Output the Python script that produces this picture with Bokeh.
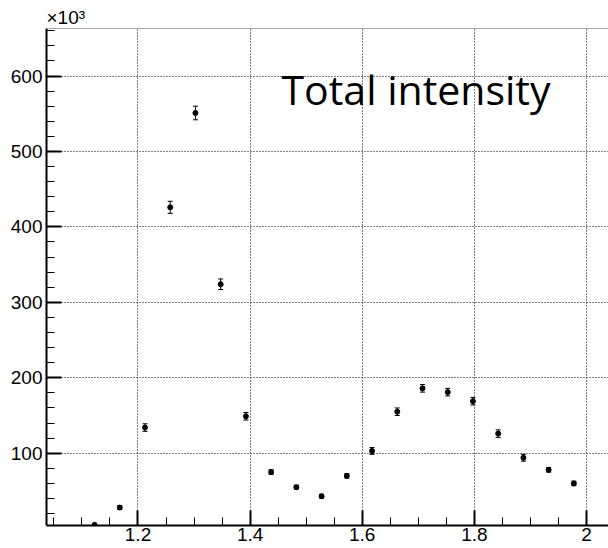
from bokeh.plotting import figure
from bokeh.models import (Range1d, FixedTicker, SingleIntervalTicker, Whisker,
                          ColumnDataSource, Label, Span, TeeHead)
from bokeh.embed import file_html
from bokeh.resources import INLINE

# bin centres (mass) and total intensity (x10^3)
x_centers = [1.1225, 1.1675, 1.2125, 1.2575, 1.3025, 1.3475, 1.3925, 1.4375,
             1.4825, 1.5275, 1.5725, 1.6175, 1.6625, 1.7075, 1.7525, 1.7975,
             1.8425, 1.8875, 1.9325, 1.9775]
intensity = [5, 28, 134, 426, 551, 324, 149, 75, 55, 43, 70, 103, 155, 186,
             181, 169, 126, 94, 78, 60]
errors = [2, 2.5, 5, 8, 9, 7, 5, 3, 2.5, 2.5, 3, 4.5, 5, 5, 5, 5, 5, 4.5, 3, 3]

x_ticks = [1.2, 1.4, 1.6, 1.8, 2.0]
x_minor = [1.05, 1.1, 1.15, 1.25, 1.3, 1.35, 1.45, 1.5, 1.55, 1.65, 1.7,
           1.75, 1.85, 1.9, 1.95]
x_tick_labels = {2: "2"}

x_lo, x_hi = 1.0368, 2.0393
y_lo, y_hi = 4.2, 663.0

src = ColumnDataSource(dict(
    x=x_centers, y=intensity,
    upper=[v + e for v, e in zip(intensity, errors)],
    lower=[v - e for v, e in zip(intensity, errors)],
))

p = figure(width=608, height=548, output_backend="svg", toolbar_location=None,
           x_range=Range1d(x_lo, x_hi), y_range=Range1d(y_lo, y_hi),
           min_border_left=46, min_border_right=0, min_border_top=28,
           min_border_bottom=23, outline_line_color=None,
           background_fill_color="white", border_fill_color="white",
           title="×10³")

font = "'Liberation Sans Narrow', 'Liberation Sans'"
p.title.align = "left"
p.title.text_font = font
p.title.text_font_size = "19px"
p.title.text_font_style = "normal"
p.title.text_color = "black"
p.title.standoff = 2
p.title.offset = 0

for ax in (p.xaxis[0], p.yaxis[0]):
    ax.axis_line_width = 2
    ax.axis_line_color = "black"
    ax.major_tick_in = 15
    ax.major_tick_out = 0
    ax.minor_tick_in = 8
    ax.minor_tick_out = 0
    ax.major_tick_line_width = 2
    ax.minor_tick_line_width = 1
    ax.major_tick_line_color = "black"
    ax.minor_tick_line_color = "black"
    ax.major_label_text_font = font
    ax.major_label_text_font_size = "19px"
    ax.major_label_text_color = "black"
p.xaxis.major_label_standoff = 2
p.yaxis.major_label_standoff = 4

p.xaxis.ticker = FixedTicker(ticks=x_ticks, minor_ticks=x_minor)
p.xaxis.major_label_overrides = x_tick_labels
p.yaxis.ticker = SingleIntervalTicker(interval=100, num_minor_ticks=5)

for g in (p.xgrid[0], p.ygrid[0]):
    g.grid_line_color = "black"
    g.grid_line_dash = "1 2"
    g.grid_line_width = 1

p.add_layout(Span(location=y_hi, dimension="width", line_color="#555555",
                  line_width=1))

p.add_layout(Whisker(source=src, base="x", upper="upper", lower="lower",
                     line_color="black", line_width=1,
                     upper_head=TeeHead(size=5, line_color="black", line_width=1),
                     lower_head=TeeHead(size=5, line_color="black", line_width=1)))
p.scatter("x", "y", source=src, size=5, color="black")

p.add_layout(Label(x=1.456, y=583, text="Total intensity",
                   text_font="Open Sans", text_font_size="41px",
                   text_color="black", text_baseline="alphabetic"))

open("out.html", "w").write(file_html(p, INLINE))
